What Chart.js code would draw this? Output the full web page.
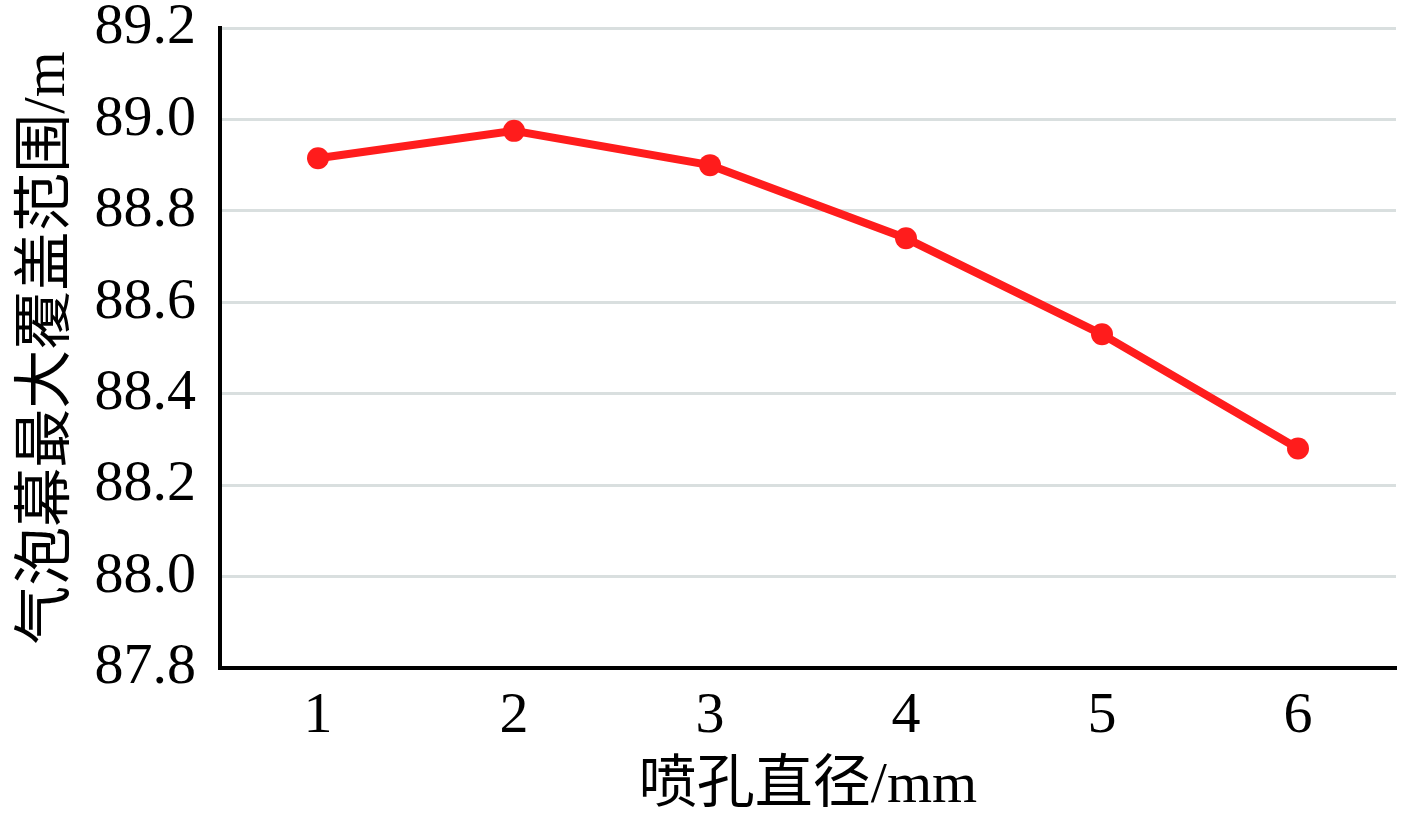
<!DOCTYPE html>
<html>
<head>
<meta charset="utf-8">
<script src="https://cdn.jsdelivr.net/npm/chart.js@4/dist/chart.umd.min.js"></script>
<style>
  html, body { margin: 0; padding: 0; background: #fff; }
  #wrap { width: 1417px; height: 822px; }
</style>
</head>
<body>
<div id="wrap"><canvas id="chart" width="1417" height="822"></canvas></div>
<script>
// nozzle diameter (mm) vs max bubble curtain coverage (m)
const diameters = ["1", "2", "3", "4", "5", "6"];
const coverage = [88.915, 88.975, 88.90, 88.74, 88.53, 88.28];
const yMin = 87.8;
const yMax = 89.2;
const yStep = 0.2;

const serif = '"Liberation Serif", "Times New Roman", "Noto Sans CJK SC", serif';
const red = "#ff1c1c";

// keep the plot area where the reference has it
function noLabelPadding(scale) {
  scale.paddingTop = 0;
  scale.paddingBottom = 0;
  scale.paddingLeft = 0;
  scale.paddingRight = 0;
}

const ctx = document.getElementById("chart").getContext("2d");
new Chart(ctx, {
  type: "line",
  data: {
    labels: diameters,
    datasets: [
      {
        data: coverage,
        borderColor: red,
        backgroundColor: red,
        borderWidth: 8,
        pointRadius: 11,
        pointBorderWidth: 0,
        pointBackgroundColor: red,
        tension: 0,
      },
    ],
  },
  options: {
    responsive: false,
    animation: false,
    layout: { padding: { left: 0, top: 28, right: 21, bottom: 0 } },
    plugins: {
      legend: { display: false },
      tooltip: { enabled: false },
    },
    scales: {
      x: {
        offset: true,
        grid: { display: false, drawTicks: false },
        border: { display: true, color: "#000", width: 4 },
        ticks: {
          color: "#000",
          padding: 20,
          font: { family: serif, size: 58, lineHeight: 1 },
        },
        title: {
          display: true,
          text: "喷孔直径/mm",
          color: "#000",
          padding: { top: 0, bottom: 6 },
          font: { family: serif, size: 58, lineHeight: 1 },
        },
        afterFit(scale) {
          scale.height = 154;
          noLabelPadding(scale);
        },
      },
      y: {
        min: yMin,
        max: yMax,
        grid: { color: "#d9dfdf", lineWidth: 3, drawTicks: false },
        border: { display: true, color: "#000", width: 4 },
        ticks: {
          stepSize: yStep,
          color: "#000",
          padding: 24,
          font: { family: serif, size: 58, lineHeight: 1 },
          callback: (v) => Number(v).toFixed(1),
        },
        title: {
          display: true,
          text: "气泡幕最大覆盖范围/m",
          color: "#000",
          padding: { top: 19, bottom: 0 },
          font: { family: serif, size: 59, lineHeight: 1 },
        },
        afterFit(scale) {
          scale.width = 220;
          noLabelPadding(scale);
        },
      },
    },
  },
});
</script>
</body>
</html>
